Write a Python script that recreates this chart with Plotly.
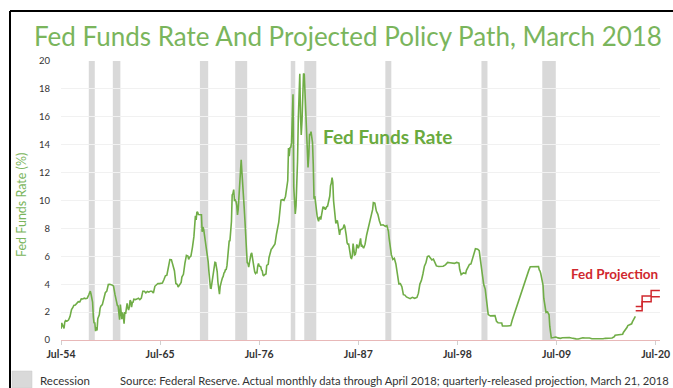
import plotly.graph_objects as go

# ---------------- data ----------------
ffr_dates = ["1954-07","1954-08","1954-09","1954-10","1954-11","1954-12","1955-01","1955-03","1955-05","1955-07","1955-08","1955-09","1955-11","1955-12",
"1956-02","1956-04","1956-06","1956-08","1956-10","1956-12","1957-02","1957-04","1957-06","1957-08","1957-10","1957-11","1957-12",
"1958-01","1958-02","1958-03","1958-04","1958-05","1958-06","1958-07","1958-08","1958-09","1958-10","1958-11","1958-12",
"1959-02","1959-04","1959-06","1959-08","1959-10","1959-12","1960-02","1960-04","1960-05","1960-06","1960-07","1960-08","1960-09","1960-10","1960-11","1960-12",
"1961-01","1961-02","1961-03","1961-04","1961-05","1961-06","1961-07","1961-08","1961-09","1961-10","1961-11","1961-12",
"1962-01","1962-02","1962-03","1962-04","1962-05","1962-06","1962-07","1962-08","1962-09","1962-10","1962-12",
"1963-02","1963-04","1963-06","1963-08","1963-10","1963-12","1964-02","1964-04","1964-06","1964-08","1964-10","1964-12",
"1965-02","1965-04","1965-06","1965-08","1965-10","1965-12","1966-02","1966-04","1966-06","1966-08","1966-10","1966-12",
"1967-02","1967-04","1967-06","1967-07","1967-09","1967-11","1967-12","1968-02","1968-04","1968-06","1968-08","1968-09","1968-10","1968-12",
"1969-02","1969-04","1969-06","1969-07","1969-08","1969-09","1969-10","1969-12",
"1970-01","1970-02","1970-03","1970-04","1970-05","1970-06","1970-07","1970-08","1970-09","1970-10","1970-11","1970-12",
"1971-01","1971-02","1971-03","1971-04","1971-05","1971-06","1971-07","1971-08","1971-09","1971-10","1971-11","1971-12",
"1972-01","1972-02","1972-03","1972-04","1972-05","1972-06","1972-07","1972-08","1972-09","1972-10","1972-11","1972-12",
"1973-01","1973-02","1973-03","1973-04","1973-05","1973-06","1973-07","1973-08","1973-09","1973-10","1973-11","1973-12",
"1974-01","1974-02","1974-03","1974-04","1974-05","1974-06","1974-07","1974-08","1974-09","1974-10","1974-11","1974-12",
"1975-01","1975-02","1975-03","1975-04","1975-05","1975-06","1975-07","1975-08","1975-09","1975-10","1975-11","1975-12",
"1976-01","1976-02","1976-03","1976-04","1976-05","1976-06","1976-07","1976-08","1976-09","1976-10","1976-11","1976-12",
"1977-01","1977-02","1977-03","1977-04","1977-05","1977-06","1977-07","1977-08","1977-09","1977-10","1977-11","1977-12",
"1978-02","1978-04","1978-06","1978-08","1978-09","1978-10","1978-11","1978-12",
"1979-02","1979-04","1979-06","1979-08","1979-09","1979-10","1979-11","1979-12",
"1980-01","1980-02","1980-03","1980-04","1980-05","1980-06","1980-07","1980-08","1980-09","1980-10","1980-11","1980-12",
"1981-01","1981-02","1981-03","1981-04","1981-05","1981-06","1981-07","1981-08","1981-09","1981-10","1981-11","1981-12",
"1982-01","1982-02","1982-03","1982-04","1982-05","1982-06","1982-07","1982-08","1982-09","1982-10","1982-11","1982-12",
"1983-01","1983-02","1983-03","1983-04","1983-05","1983-06","1983-07","1983-08","1983-09","1983-10","1983-11","1983-12",
"1984-01","1984-02","1984-03","1984-04","1984-05","1984-06","1984-07","1984-08","1984-09","1984-10","1984-11","1984-12",
"1985-01","1985-02","1985-03","1985-04","1985-05","1985-06","1985-07","1985-08","1985-09","1985-10","1985-11","1985-12",
"1986-01","1986-02","1986-03","1986-04","1986-05","1986-06","1986-07","1986-08","1986-09","1986-10","1986-11","1986-12",
"1987-01","1987-02","1987-03","1987-04","1987-05","1987-06","1987-07","1987-08","1987-09","1987-10","1987-11","1987-12",
"1988-02","1988-04","1988-06","1988-08","1988-10","1988-12","1989-02","1989-03","1989-05","1989-07","1989-09","1989-11",
"1990-01","1990-04","1990-07","1990-09","1990-11","1990-12","1991-01","1991-03","1991-05","1991-07","1991-09","1991-11","1991-12",
"1992-01","1992-03","1992-05","1992-07","1992-09","1992-11","1993-01","1993-04","1993-07","1993-10",
"1994-01","1994-03","1994-05","1994-07","1994-09","1994-11","1995-01","1995-03","1995-05","1995-07","1995-09","1995-11",
"1996-01","1996-03","1996-06","1996-09","1996-12","1997-03","1997-06","1997-09","1997-12",
"1998-03","1998-06","1998-09","1998-10","1998-11","1998-12","1999-03","1999-06","1999-07","1999-09","1999-11",
"2000-01","2000-03","2000-05","2000-07","2000-10","2000-12","2001-01","2001-02","2001-04","2001-06","2001-08","2001-09","2001-10","2001-11","2001-12",
"2002-03","2002-06","2002-09","2002-11","2003-01","2003-06","2003-07","2004-01","2004-06","2004-08","2004-10","2004-12",
"2005-03","2005-06","2005-09","2005-12","2006-03","2006-06","2006-08","2007-01","2007-07","2007-08","2007-09","2007-10","2007-11","2007-12",
"2008-01","2008-02","2008-03","2008-04","2008-05","2008-07","2008-09","2008-10","2008-11","2008-12",
"2009-03","2009-06","2009-09","2009-12","2010-03","2010-06","2010-09","2010-12","2011-03","2011-06","2011-09","2011-12",
"2012-03","2012-06","2012-09","2012-12","2013-03","2013-06","2013-09","2013-12","2014-03","2014-06","2014-09","2014-12",
"2015-03","2015-06","2015-09","2015-12","2016-01","2016-06","2016-11","2016-12","2017-02","2017-03","2017-05","2017-06","2017-09","2017-11","2017-12",
"2018-01","2018-02","2018-03","2018-04"]

ffr_values = [0.80,1.22,1.06,0.85,0.83,1.28,1.39,1.35,1.43,1.68,1.96,2.18,2.35,2.48,
2.50,2.62,2.75,2.73,2.95,2.94,3.00,2.96,3.00,3.24,3.50,3.28,2.98,
2.72,1.67,1.20,1.26,0.63,0.93,0.68,1.53,1.76,1.80,2.27,2.42,
2.54,2.96,3.39,3.50,3.98,3.99,3.97,3.92,3.85,3.32,3.23,2.98,2.60,2.47,2.44,1.98,
1.45,2.54,2.02,1.49,1.98,1.73,1.17,2.00,1.88,2.26,2.62,2.33,
2.15,2.37,2.85,2.78,2.36,2.68,2.71,2.93,2.90,2.90,2.93,
3.00,2.90,3.00,3.50,3.50,3.38,3.48,3.43,3.50,3.50,3.36,3.85,
3.98,4.05,4.04,4.07,4.08,4.32,4.60,4.65,5.17,5.77,5.76,5.40,
4.97,4.05,3.98,3.79,3.99,4.13,4.51,4.71,5.50,6.07,6.02,5.78,5.91,6.02,
6.64,7.41,8.90,8.61,9.19,9.15,9.00,8.97,
8.98,8.98,7.76,8.10,7.95,7.60,7.21,6.61,6.29,6.20,5.60,4.90,
4.14,3.72,3.71,4.16,4.63,4.91,5.31,5.57,5.55,5.20,4.91,4.14,
3.50,3.29,3.83,4.17,4.27,4.46,4.55,4.80,4.87,5.04,5.06,5.33,
5.94,6.58,7.09,7.12,7.84,8.49,10.40,10.50,10.78,10.01,10.03,9.95,
9.65,8.97,9.35,10.51,11.31,11.93,12.92,12.01,11.34,10.06,9.45,8.53,
7.13,6.24,5.54,5.49,5.22,5.55,6.10,6.14,6.24,5.82,5.22,5.20,
4.87,4.77,4.84,4.82,5.29,5.48,5.31,5.29,5.25,5.02,4.95,4.65,
4.61,4.68,4.69,4.73,5.35,5.39,5.42,5.90,6.14,6.47,6.51,6.56,
6.78,6.89,7.60,8.04,8.45,8.96,9.76,10.03,
10.06,10.01,10.29,10.94,11.43,13.77,13.18,13.78,
13.82,14.13,17.19,17.61,10.98,9.47,9.03,9.61,10.87,12.81,15.85,18.90,
19.08,15.93,14.70,15.72,18.52,19.10,19.04,17.82,15.87,15.08,13.31,12.37,
13.22,14.78,14.68,14.94,14.45,14.15,12.59,10.12,10.31,9.71,9.20,8.95,
8.68,8.51,8.77,8.80,8.63,8.98,9.37,9.56,9.45,9.48,9.34,9.47,
9.56,9.59,9.91,10.29,10.32,11.06,11.23,11.64,11.30,9.99,9.43,8.38,
8.35,8.50,8.58,8.27,7.97,7.53,7.88,7.90,7.92,7.99,8.05,8.27,
8.14,7.86,7.48,6.99,6.85,6.92,6.56,6.17,5.89,5.85,6.04,6.91,
6.43,6.10,6.13,6.37,6.85,6.73,6.58,6.73,7.22,7.29,6.69,6.77,
6.58,6.87,7.51,8.01,8.30,8.76,9.36,9.85,9.81,9.24,9.01,8.55,
8.23,8.26,8.15,8.20,7.81,7.31,6.91,6.12,5.78,5.86,5.45,4.81,4.43,
4.03,4.04,3.82,3.25,3.22,3.09,3.02,2.96,3.06,2.99,
3.05,3.34,4.01,4.26,4.73,5.29,5.53,5.98,6.02,5.85,5.74,5.80,
5.56,5.31,5.27,5.30,5.29,5.39,5.56,5.54,5.50,
5.49,5.56,5.51,5.07,4.83,4.68,4.81,4.76,4.99,5.22,5.42,
5.45,5.85,6.27,6.54,6.51,6.40,5.98,5.49,4.80,3.97,3.65,3.07,2.49,2.09,1.82,
1.73,1.75,1.75,1.34,1.24,1.22,1.01,1.00,1.03,1.43,1.76,2.16,
2.63,3.04,3.62,4.16,4.59,4.99,5.25,5.25,5.26,5.02,4.94,4.76,4.49,4.24,
3.94,2.98,2.61,2.28,1.98,2.01,1.81,0.97,0.39,0.16,
0.18,0.21,0.15,0.12,0.16,0.18,0.19,0.18,0.14,0.09,0.08,0.07,
0.13,0.16,0.14,0.16,0.14,0.09,0.08,0.09,0.08,0.10,0.09,0.12,
0.11,0.13,0.14,0.24,0.34,0.38,0.41,0.54,0.66,0.79,0.91,1.04,1.15,1.16,1.30,
1.41,1.42,1.51,1.69]

proj_dates = ["2018-04-15", "2019-01-01", "2020-01-01", "2020-12-20"]
proj_low = [2.1, 2.75, 3.1, 3.1]
proj_high = [2.4, 3.15, 3.55, 3.55]

recession_start = ["1957-08-01", "1960-04-01", "1969-12-01", "1973-11-01", "1980-01-01", "1981-07-01",
                   "1990-07-01", "2001-03-01", "2007-12-01"]
recession_end = ["1958-04-01", "1961-02-01", "1970-11-01", "1975-03-01", "1980-07-01", "1982-11-01",
                 "1991-03-01", "2001-11-01", "2009-06-01"]

x_tick_vals = ["1954-07-01", "1965-07-01", "1976-07-01", "1987-07-01", "1998-07-01", "2009-07-01", "2020-07-01"]
x_tick_text = ["Jul-54", "Jul-65", "Jul-76", "Jul-87", "Jul-98", "Jul-09", "Jul-20"]
y_tick_vals = [0, 2, 4, 6, 8, 10, 12, 14, 16, 18, 20]

# ---------------- layout geometry ----------------
W, H = 673, 388
L, R, T, B = 61, 13, 61, 48
PW, PH = W - L - R, H - T - B


def px(xp):
    return (xp - L) / PW


def py(yp):
    return (H - B - yp) / PH


FONT = "Lato"
GREEN = "#70ad47"
RED = "#d0282e"

fig = go.Figure()

fig.add_trace(go.Scatter(x=ffr_dates, y=ffr_values, mode="lines",
                         line=dict(color=GREEN, width=1.6), showlegend=False))
fig.add_trace(go.Scatter(x=proj_dates, y=proj_low, mode="lines", line_shape="hv",
                         line=dict(color=RED, width=1.5), showlegend=False))
fig.add_trace(go.Scatter(x=proj_dates, y=proj_high, mode="lines", line_shape="hv",
                         line=dict(color=RED, width=1.5), showlegend=False))

shapes = []
for s, e in zip(recession_start, recession_end):
    shapes.append(dict(type="rect", xref="x", yref="y", x0=s, x1=e, y0=0, y1=20,
                       fillcolor="#d9d9d9", line=dict(width=0), layer="below"))
# frame lines
shapes.append(dict(type="line", xref="paper", yref="paper", x0=px(10), x1=px(673), y0=py(11), y1=py(11),
                   line=dict(color="black", width=2)))
shapes.append(dict(type="line", xref="paper", yref="paper", x0=px(10), x1=px(10), y0=py(11), y1=py(388),
                   line=dict(color="black", width=2)))
# legend swatch
shapes.append(dict(type="rect", xref="paper", yref="paper", x0=px(12), x1=px(32), y0=py(388), y1=py(371),
                   fillcolor="#d9d9d9", line=dict(color="#c8c8c8", width=0.5)))

annotations = [
    dict(text="Fed Funds Rate And Projected Policy Path, March 2018", xref="paper", yref="paper",
         x=px(348), y=py(36), showarrow=False, xanchor="center", yanchor="middle",
         font=dict(family=FONT, size=26, color="#7ab55c")),
    dict(text="Fed Funds Rate (%)", xref="paper", yref="paper", x=px(21), y=py(205), textangle=-90,
         showarrow=False, xanchor="center", yanchor="middle",
         font=dict(family=FONT, size=12.5, color="#7ab55c")),
    dict(text="<b>Fed Funds Rate</b>", xref="paper", yref="paper", x=px(321), y=py(136),
         showarrow=False, xanchor="left", yanchor="middle",
         font=dict(family=FONT, size=19, color="#6aaa3e")),
    dict(text="<b>Fed Projection</b>", xref="paper", yref="paper", x=px(614), y=py(274),
         showarrow=False, xanchor="center", yanchor="middle",
         font=dict(family=FONT, size=13.5, color=RED)),
    dict(text="Recession", xref="paper", yref="paper", x=px(38), y=py(380),
         showarrow=False, xanchor="left", yanchor="middle",
         font=dict(family=FONT, size=11.5, color="#333333")),
    dict(text="Source: Federal Reserve. Actual monthly data through April 2018; quarterly-released projection, March 21, 2018",
         xref="paper", yref="paper", x=px(671), y=py(380),
         showarrow=False, xanchor="right", yanchor="middle",
         font=dict(family=FONT, size=11.2, color="#333333")),
]

fig.update_layout(
    width=W, height=H, margin=dict(l=L, r=R, t=T, b=B, autoexpand=False),
    paper_bgcolor="white", plot_bgcolor="white",
    shapes=shapes, annotations=annotations, showlegend=False,
    xaxis=dict(type="date", range=["1954-07-01", "2020-12-25"], tickmode="array",
               tickvals=x_tick_vals, ticktext=x_tick_text, showgrid=False,
               showline=True, linecolor="#e8b8b8", linewidth=1,
               ticks="outside", ticklen=4, tickcolor="#d0d0d0",
               tickfont=dict(family=FONT, size=10.5, color="#333333", weight="bold"),
               zeroline=False, fixedrange=True),
    yaxis=dict(range=[0, 20], tickmode="array", tickvals=y_tick_vals, showgrid=True,
               gridcolor="#f1f1f1", gridwidth=1, zeroline=False, showline=False,
               ticklabelstandoff=10,
               tickfont=dict(family=FONT, size=9.5, color="#333333"), fixedrange=True),
)

fig.write_html("out.html")
